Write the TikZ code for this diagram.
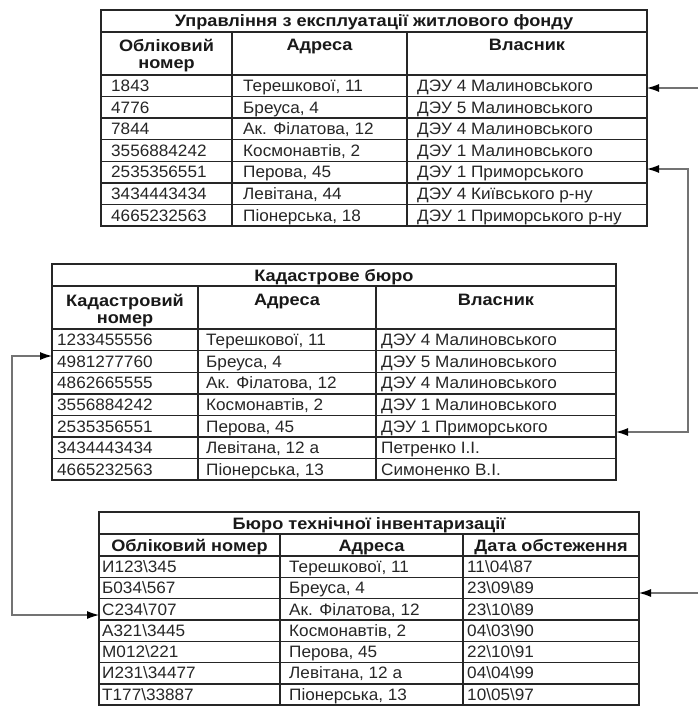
\documentclass[tikz,border=0pt]{standalone}
\usepackage{fontspec}
\setmainfont[FakeStretch=1.04, BoldFeatures={FakeStretch=1.1}]{Liberation Sans}
\usetikzlibrary{arrows.meta}
\newcommand{\bsl}{\textbackslash}
\tikzset{
  grid/.style={line width=1.4pt, draw=black!85},
  cell/.style={anchor=base west, inner sep=0pt, text=black!85, font=\fontsize{16.5}{18}\selectfont},
  headtxt/.style={anchor=base, inner sep=0pt, text=black!90, font=\fontsize{16.5}{18}\selectfont\bfseries},
  tabtitle/.style={anchor=base, inner sep=0pt, text=black!90, font=\fontsize{16.5}{18}\selectfont\bfseries},
  tip/.tip={Latex[length=12pt,width=8pt,color=black]},
  link/.style={draw=black!55, line width=1.1pt},
}
\begin{document}
\begin{tikzpicture}[x=1pt,y=-1pt]
\useasboundingbox (0,0) rectangle (698,708);
\fill[white] (0,0) rectangle (698,708);

% ---------- Table 1 ----------
\draw[grid] (101,10) rectangle (647,226);
\draw[grid] (101,32) -- (647,32);
\foreach \i in {0,...,6} \draw[grid] (101,75+21.6*\i) -- (647,75+21.6*\i);
\draw[grid] (232,32) -- (232,226);
\draw[grid] (407,32) -- (407,226);
\node[tabtitle] (t1title) at (374,27) {Управління з експлуатації житлового фонду};
\node[headtxt] (t1h1a) at (166.5,52) {Обліковий};
\node[headtxt] (t1h1b) at (166.5,69) {номер};
\node[headtxt] (t1h2) at (319.5,51) {Адреса};
\node[headtxt] (t1h3) at (527,51) {Власник};
\foreach \a/\b/\c [count=\i from 0] in {
  1843/{Терешкової, 11}/ДЭУ 4 Малиновського,
  4776/{Бреуса, 4}/ДЭУ 5 Малиновського,
  7844/{Ак. Філатова, 12}/ДЭУ 4 Малиновського,
  3556884242/{Космонавтів, 2}/ДЭУ 1 Малиновського,
  2535356551/{Перова, 45}/ДЭУ 1 Приморського,
  3434443434/{Левітана, 44}/ДЭУ 4 Київського р-ну,
  4665232563/{Піонерська, 18}/ДЭУ 1 Приморського р-ну}{
  \node[cell] (t1a\i) at (111,75+21.6*\i+16.6) {\a};
  \node[cell] (t1b\i) at (243,75+21.6*\i+16.6) {\b};
  \node[cell] (t1c\i) at (417,75+21.6*\i+16.6) {\c};
}

% ---------- Table 2 ----------
\draw[grid] (52,264) rectangle (616,480);
\draw[grid] (52,286) -- (616,286);
\foreach \i in {0,...,6} \draw[grid] (52,329+21.6*\i) -- (616,329+21.6*\i);
\draw[grid] (198,286) -- (198,480);
\draw[grid] (376,286) -- (376,480);
\node[tabtitle] (t2title) at (334,281) {Кадастрове бюро};
\node[headtxt] (t2h1a) at (125,306) {Кадастровий};
\node[headtxt] (t2h1b) at (125,323) {номер};
\node[headtxt] (t2h2) at (287,305) {Адреса};
\node[headtxt] (t2h3) at (496,305) {Власник};
\foreach \a/\b/\c [count=\i from 0] in {
  1233455556/{Терешкової, 11}/ДЭУ 4 Малиновського,
  4981277760/{Бреуса, 4}/ДЭУ 5 Малиновського,
  4862665555/{Ак. Філатова, 12}/ДЭУ 4 Малиновського,
  3556884242/{Космонавтів, 2}/ДЭУ 1 Малиновського,
  2535356551/{Перова, 45}/ДЭУ 1 Приморського,
  3434443434/{Левітана, 12 а}/Петренко І.І.,
  4665232563/{Піонерська, 13}/Симоненко В.І.}{
  \node[cell] (t2a\i) at (57,329+21.6*\i+16.6) {\a};
  \node[cell] (t2b\i) at (206,329+21.6*\i+16.6) {\b};
  \node[cell] (t2c\i) at (381,329+21.6*\i+16.6) {\c};
}

% ---------- Table 3 ----------
\draw[grid] (99,512) rectangle (639,705);
\draw[grid] (99,534) -- (639,534);
\foreach \i in {0,...,6} \draw[grid] (99,556+21.3*\i) -- (639,556+21.3*\i);
\draw[grid] (280,534) -- (280,705);
\draw[grid] (463,534) -- (463,705);
\node[tabtitle] (t3title) at (369,529) {Бюро технічної інвентаризації};
\node[headtxt] (t3h1) at (189.5,551) {Обліковий номер};
\node[headtxt] (t3h2) at (371.5,551) {Адреса};
\node[headtxt] (t3h3) at (551,551) {Дата обстеження};
\foreach \a/\b/\c [count=\i from 0] in {
  И123\bsl 345/{Терешкової, 11}/11\bsl 04\bsl 87,
  Б034\bsl 567/{Бреуса, 4}/23\bsl 09\bsl 89,
  С234\bsl 707/{Ак. Філатова, 12}/23\bsl 10\bsl 89,
  А321\bsl 3445/{Космонавтів, 2}/04\bsl 03\bsl 90,
  М012\bsl 221/{Перова, 45}/22\bsl 10\bsl 91,
  И231\bsl 34477/{Левітана, 12 а}/04\bsl 04\bsl 99,
  Т177\bsl 33887/{Піонерська, 13}/10\bsl 05\bsl 97}{
  \node[cell] (t3a\i) at (102,556+21.3*\i+16.4) {\a};
  \node[cell] (t3b\i) at (289,556+21.3*\i+16.4) {\b};
  \node[cell] (t3c\i) at (467,556+21.3*\i+16.4) {\c};
}

% ---------- Connectors ----------
\coordinate (in1) at (698,88);
\coordinate (t1r0) at (647,88);
\coordinate (t1r4) at (647,169);
\coordinate (t2r4) at (616,432);
\coordinate (rbus) at (688,0);
\coordinate (t2l1) at (52,356);
\coordinate (t3l2) at (99,615);
\coordinate (lbus) at (12,0);
\coordinate (in4) at (698,593);
\coordinate (t3r1) at (639,593);

\draw[link,-tip] (in1) -- (t1r0);
\draw[link,tip-tip] (t1r4) -- (t1r4 -| rbus) -- (t2r4 -| rbus) -- (t2r4);
\draw[link,tip-tip] (t2l1) -- (t2l1 -| lbus) -- (t3l2 -| lbus) -- (t3l2);
\draw[link,-tip] (in4) -- (t3r1);
\end{tikzpicture}
\end{document}
